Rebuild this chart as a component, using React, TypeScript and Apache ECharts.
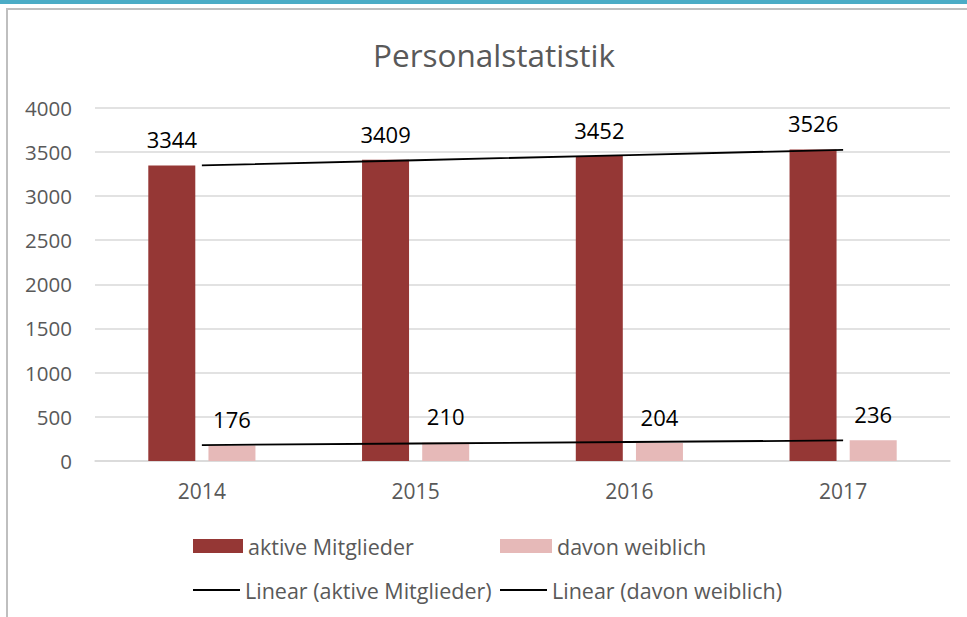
import React, { useEffect, useRef } from "react";
import * as echarts from "echarts";

const categories = ["2014", "2015", "2016", "2017"];
const aktiveMitglieder = [3344, 3409, 3452, 3526];
const davonWeiblich = [176, 210, 204, 236];
const yTicks = { min: 0, max: 4000, interval: 500 };

const FONT = "'Open Sans', 'Noto Sans', sans-serif";
const GREY_TEXT = "#595959";
const DARK = "#953735";
const LIGHT = "#E6B9B8";

function linearTrend(values: number[]): number[] {
  const n = values.length;
  const xs = values.map((_, i) => i + 1);
  const mx = xs.reduce((a, b) => a + b, 0) / n;
  const my = values.reduce((a, b) => a + b, 0) / n;
  let num = 0;
  let den = 0;
  for (let i = 0; i < n; i++) {
    num += (xs[i] - mx) * (values[i] - my);
    den += (xs[i] - mx) * (xs[i] - mx);
  }
  const slope = num / den;
  return xs.map((x) => my + slope * (x - mx));
}

export default function App() {
  const ref = useRef<HTMLDivElement>(null);

  useEffect(() => {
    if (!ref.current) return;
    const chart = echarts.init(ref.current, null, { renderer: "svg" });

    const legendText = { fontFamily: FONT, fontSize: 21.5, color: GREY_TEXT, lineHeight: 24 };

    chart.setOption({
      animation: false,
      backgroundColor: "#ffffff",
      title: {
        text: "Personalstatistik",
        left: 489,
        top: 33,
        textAlign: "center",
        textStyle: { fontFamily: FONT, fontSize: 31.5, fontWeight: "normal", color: GREY_TEXT },
      },
      graphic: [
        {
          type: "rect",
          z: -10,
          shape: { x: 0, y: 0, width: 967, height: 4 },
          style: { fill: "#4BACC6" },
        },
        {
          type: "rect",
          z: -10,
          shape: { x: 7, y: 9, width: 1000, height: 700 },
          style: { fill: "none", stroke: "#BFBFBF", lineWidth: 2 },
        },
      ],
      legend: [
        {
          data: ["aktive Mitglieder"],
          left: 193,
          top: 534,
          padding: 0,
          itemWidth: 50,
          itemHeight: 14,
          icon: "rect",
          textStyle: legendText,
          selectedMode: false,
        },
        {
          data: ["davon weiblich"],
          left: 500,
          top: 534,
          padding: 0,
          itemWidth: 52,
          itemHeight: 14,
          icon: "rect",
          textStyle: legendText,
          selectedMode: false,
        },
        {
          data: ["Linear (aktive Mitglieder)"],
          left: 193,
          top: 578,
          padding: 0,
          itemWidth: 47,
          itemHeight: 2,
          icon: "rect",
          itemStyle: { color: "#000000" },
          textStyle: legendText,
          selectedMode: false,
        },
        {
          data: ["Linear (davon weiblich)"],
          left: 500,
          top: 578,
          padding: 0,
          itemWidth: 47,
          itemHeight: 2,
          icon: "rect",
          itemStyle: { color: "#000000" },
          textStyle: legendText,
          selectedMode: false,
        },
      ],
      grid: { left: 95, right: 17, top: 107.5, bottom: 156, containLabel: false },
      xAxis: {
        type: "category",
        data: categories,
        axisTick: { show: false },
        axisLine: { show: true, lineStyle: { color: "#D9D9D9", width: 1.5 } },
        axisLabel: { fontFamily: FONT, fontSize: 21, color: GREY_TEXT, margin: 19 },
      },
      yAxis: {
        type: "value",
        min: yTicks.min,
        max: yTicks.max,
        interval: yTicks.interval,
        axisLine: { show: false },
        axisTick: { show: false },
        splitLine: { lineStyle: { color: "#D9D9D9", width: 1.5 } },
        axisLabel: {
          fontFamily: FONT,
          fontSize: 20.5,
          color: GREY_TEXT,
          margin: 23,
          formatter: (v: number) => String(v),
        },
      },
      series: [
        {
          name: "aktive Mitglieder",
          type: "bar",
          data: aktiveMitglieder,
          barWidth: 47,
          barGap: "28%",
          itemStyle: { color: DARK },
          label: {
            show: true,
            position: "top",
            distance: 15,
            fontFamily: FONT,
            fontSize: 22,
            color: "#000000",
          },
        },
        {
          name: "davon weiblich",
          type: "bar",
          data: davonWeiblich,
          barWidth: 47,
          itemStyle: { color: LIGHT },
          label: {
            show: true,
            position: "top",
            distance: 15,
            fontFamily: FONT,
            fontSize: 22,
            color: "#000000",
          },
        },
        {
          name: "Linear (aktive Mitglieder)",
          type: "line",
          data: linearTrend(aktiveMitglieder),
          symbol: "none",
          lineStyle: { color: "#000000", width: 1.8 },
          itemStyle: { color: "#000000" },
          z: 5,
        },
        {
          name: "Linear (davon weiblich)",
          type: "line",
          data: linearTrend(davonWeiblich),
          symbol: "none",
          lineStyle: { color: "#000000", width: 1.8 },
          itemStyle: { color: "#000000" },
          z: 5,
        },
      ],
    });

    return () => chart.dispose();
  }, []);

  return (
    <div
      ref={ref}
      style={{ position: "fixed", left: 0, top: 0, width: 967, height: 617, background: "#fff" }}
    />
  );
}
